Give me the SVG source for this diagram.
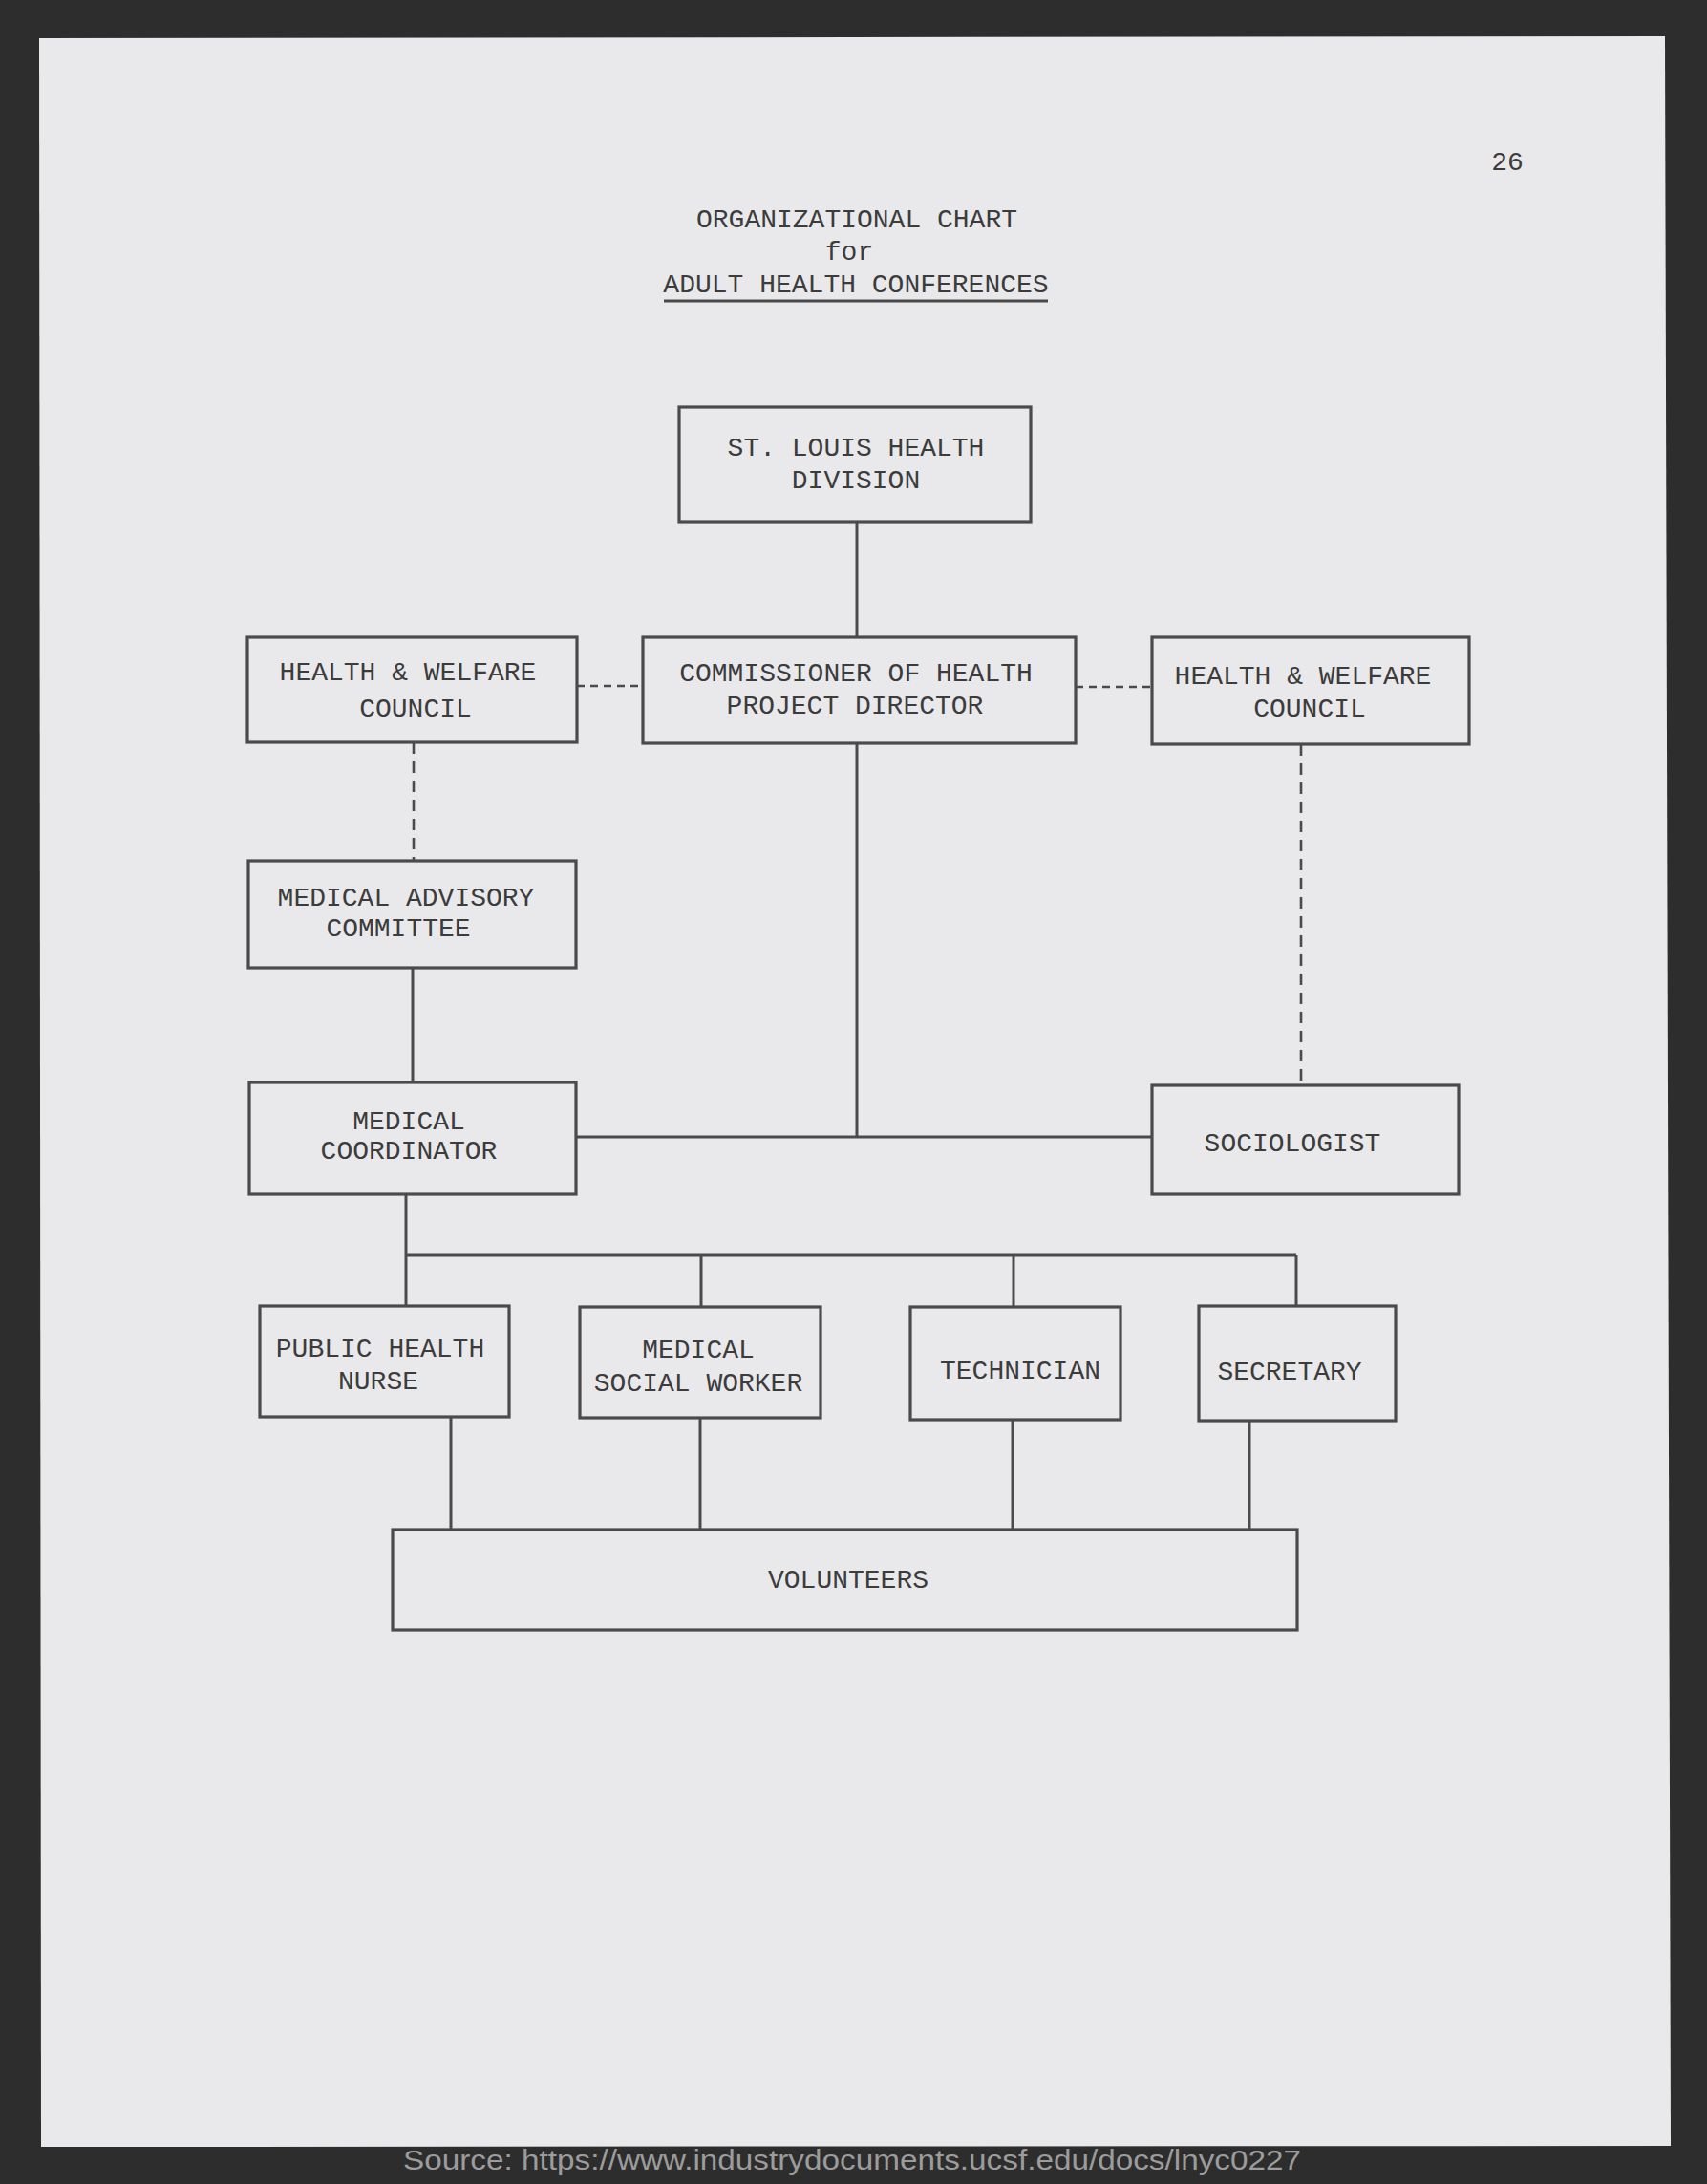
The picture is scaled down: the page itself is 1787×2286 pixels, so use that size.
<svg xmlns="http://www.w3.org/2000/svg" width="1787" height="2286" viewBox="0 0 1787 2286">
<style>
.box{fill:none;stroke:#4a4a4a;stroke-width:3.2}
.ln{stroke:#4a4a4a;stroke-width:3;fill:none}
.dash{stroke:#4a4a4a;stroke-width:2.6;fill:none;stroke-dasharray:12 8}
.dashh{stroke:#4a4a4a;stroke-width:2.6;fill:none;stroke-dasharray:8 6}
.t{font-family:"Liberation Mono","DejaVu Sans Mono",monospace;font-size:28px;fill:#3c3c3c;text-anchor:middle}
</style>
<rect x="0" y="0" width="1787" height="2286" fill="#2d2d2d"/>
<polygon points="41,40 1743,38 1749,2246 43,2247" fill="#e9e9eb"/>
<text x="892" y="2271" font-family="Liberation Sans, Arial, sans-serif" font-size="30" fill="#9c9c9c" text-anchor="middle" textLength="940" lengthAdjust="spacingAndGlyphs">Source: https://www.industrydocuments.ucsf.edu/docs/lnyc0227</text>
<g id="header">
<text class="t" x="1578" y="178" font-size="26">26</text>
<text class="t" x="897" y="238">ORGANIZATIONAL CHART</text>
<text class="t" x="889" y="272">for</text>
<text class="t" x="896" y="306">ADULT HEALTH CONFERENCES</text>
<line class="ln" x1="695" y1="315" x2="1097" y2="315"/>
</g>
<g id="connectors">
<line class="ln" x1="897" y1="546" x2="897" y2="667"/>
<line class="dashh" x1="604" y1="718" x2="673" y2="718"/>
<line class="dashh" x1="1126" y1="719" x2="1206" y2="719"/>
<line class="dash" x1="433" y1="777" x2="433" y2="901"/>
<line class="ln" x1="432" y1="1013" x2="432" y2="1133"/>
<line class="ln" x1="897" y1="778" x2="897" y2="1190"/>
<line class="ln" x1="603" y1="1190" x2="1206" y2="1190"/>
<line class="dash" x1="1362" y1="779" x2="1362" y2="1136"/>
<line class="ln" x1="425" y1="1250" x2="425" y2="1367"/>
<line class="ln" x1="425" y1="1314" x2="1357" y2="1314"/>
<line class="ln" x1="734" y1="1314" x2="734" y2="1368"/>
<line class="ln" x1="1061" y1="1314" x2="1061" y2="1368"/>
<line class="ln" x1="1357" y1="1314" x2="1357" y2="1367"/>
<line class="ln" x1="472" y1="1483" x2="472" y2="1601"/>
<line class="ln" x1="733" y1="1484" x2="733" y2="1601"/>
<line class="ln" x1="1060" y1="1486" x2="1060" y2="1601"/>
<line class="ln" x1="1308" y1="1487" x2="1308" y2="1601"/>
</g>
<g id="st-louis">
<rect class="box" x="711" y="426" width="368" height="120"/>
<text class="t" x="896" y="477">ST. LOUIS HEALTH</text>
<text class="t" x="896" y="511">DIVISION</text>
</g>
<g id="commissioner">
<rect class="box" x="673" y="667" width="453" height="111"/>
<text class="t" x="896" y="713">COMMISSIONER OF HEALTH</text>
<text class="t" x="895" y="747">PROJECT DIRECTOR</text>
</g>
<g id="hwc-left">
<rect class="box" x="259" y="667" width="345" height="110"/>
<text class="t" x="427" y="712">HEALTH &amp; WELFARE</text>
<text class="t" x="435" y="750">COUNCIL</text>
</g>
<g id="hwc-right">
<rect class="box" x="1206" y="667" width="332" height="112"/>
<text class="t" x="1364" y="716">HEALTH &amp; WELFARE</text>
<text class="t" x="1371" y="750">COUNCIL</text>
</g>
<g id="medical-advisory">
<rect class="box" x="260" y="901" width="343" height="112"/>
<text class="t" x="425" y="948">MEDICAL ADVISORY</text>
<text class="t" x="417" y="980">COMMITTEE</text>
</g>
<g id="medical-coordinator">
<rect class="box" x="261" y="1133" width="342" height="117"/>
<text class="t" x="428" y="1182">MEDICAL</text>
<text class="t" x="428" y="1213">COORDINATOR</text>
</g>
<g id="sociologist">
<rect class="box" x="1206" y="1136" width="321" height="114"/>
<text class="t" x="1353" y="1205">SOCIOLOGIST</text>
</g>
<g id="public-health-nurse">
<rect class="box" x="272" y="1367" width="261" height="116"/>
<text class="t" x="398" y="1420">PUBLIC HEALTH</text>
<text class="t" x="396" y="1454">NURSE</text>
</g>
<g id="medical-social-worker">
<rect class="box" x="607" y="1368" width="252" height="116"/>
<text class="t" x="731" y="1421">MEDICAL</text>
<text class="t" x="731" y="1456">SOCIAL WORKER</text>
</g>
<g id="technician">
<rect class="box" x="953" y="1368" width="220" height="118"/>
<text class="t" x="1068" y="1443">TECHNICIAN</text>
</g>
<g id="secretary">
<rect class="box" x="1255" y="1367" width="206" height="120"/>
<text class="t" x="1350" y="1444">SECRETARY</text>
</g>
<g id="volunteers">
<rect class="box" x="411" y="1601" width="947" height="105"/>
<text class="t" x="888" y="1662">VOLUNTEERS</text>
</g>
</svg>
